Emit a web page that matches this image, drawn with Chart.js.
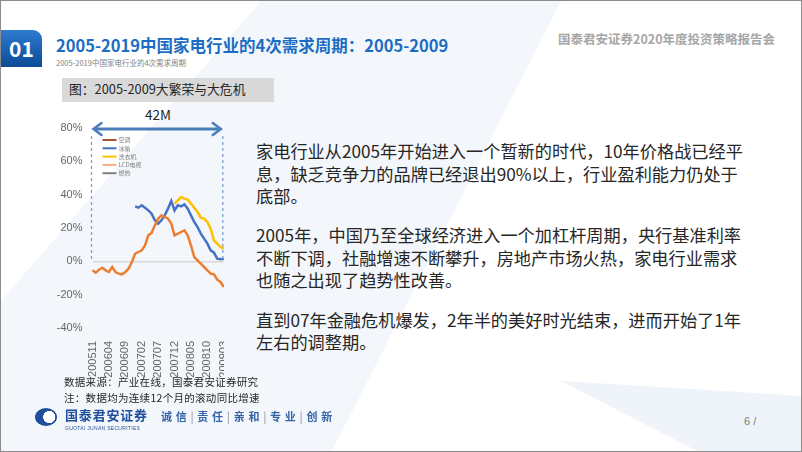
<!DOCTYPE html>
<html>
<head>
<meta charset="utf-8">
<script src="https://cdn.jsdelivr.net/npm/chart.js@4/dist/chart.umd.min.js"></script>
<style>
  html, body { margin: 0; padding: 0; }
  body {
    width: 802px; height: 452px; overflow: hidden; position: relative;
    background: #fff; font-family: "Noto Sans CJK SC", "Noto Sans", sans-serif;
    box-sizing: border-box; border: 1px solid #8c8c8c;
  }
  .abs { position: absolute; white-space: nowrap; }
  .bg1 { left: 0; top: 0; width: 802px; height: 452px; background: #f3f7fb;
         clip-path: polygon(260px 0, 560px 0, 330px 452px, 0 452px, 0 300px); }
  .bg2 { left: 0; top: 0; width: 802px; height: 452px; background: #eef4fa;
         clip-path: polygon(560px 380px, 802px 395px, 802px 452px, 700px 452px); }
  .num { left: 0; top: 29px; width: 41px; height: 37px; color: #fff; font-weight: bold;
         font-size: 21px; line-height: 37px; text-align: center;
         background: linear-gradient(180deg, #2f7ad0, #0c4a96); border-top-right-radius: 9px; }
  .title { left: 55px; top: 32px; color: #1c6cc3; font-weight: bold; font-size: 16.5px; }
  .sub { left: 55px; top: 56px; color: #7f7f7f; font-size: 7.5px; }
  .head { left: 557px; top: 28px; color: #a6a6a6; font-weight: bold; font-size: 12.5px; }
  .cap { left: 61px; top: 77px; width: 212px; height: 24px; background: #d9d9d9; }
  .cap span { position: absolute; left: 7px; top: 1px; font-size: 12.8px; color: #262626; }
  .m42 { left: 144px; top: 103px; font-size: 13.5px; color: #262626; }
  .txt { left: 255px; top: 139px; font-size: 17.2px; line-height: 22.6px; color: #262626; }
  .txt p { margin: 0 0 16.5px 0; }
  .src { left: 63px; font-size: 10.5px; line-height: 14px; color: #262626; letter-spacing: 0.3px; }
  .logo { left: 34px; top: 407px; width: 22px; height: 18px; border-radius: 50%;
          background: radial-gradient(circle at 65% 50%, #fff 0 35%, #1f4e9c 37%); }
  .brand { left: 64px; top: 407px; font-size: 13px; line-height: 13px; font-weight: bold; color: #1f4e9c; letter-spacing: 0.8px; }
  .brand-en { left: 64px; top: 424px; font-size: 5px; line-height: 6px; color: #1f4e9c; font-family: "Liberation Sans"; letter-spacing: 0.3px; }
  .motto { left: 160px; top: 407px; font-size: 11px; font-weight: bold; color: #3563a8; letter-spacing: 0.6px; }
  .page { left: 743px; top: 414px; font-size: 11px; color: #7f7f7f; font-family: "Liberation Sans"; }
  .chartbox { position: absolute; left: 45px; top: 100px; width: 178px; height: 285px; overflow: hidden; }
  .chartinner { position: absolute; left: 0; top: 0; width: 196px; height: 285px; }
</style>
</head>
<body>
<div class="abs bg1"></div>
<div class="abs bg2"></div>
<div class="abs num">01</div>
<div class="abs title">2005-2019中国家电行业的4次需求周期：2005-2009</div>
<div class="abs sub">2005-2019中国家电行业的4次需求周期</div>
<div class="abs head">国泰君安证券2020年度投资策略报告会</div>
<div class="abs cap"><span>图：2005-2009大繁荣与大危机</span></div>
<div class="abs m42">42M</div>
<div class="chartbox"><div class="chartinner"><canvas id="chartCanvas"></canvas></div></div>
<div class="abs txt">
  <p>家电行业从2005年开始进入一个暂新的时代，10年价格战已经平<br>息，缺乏竞争力的品牌已经退出90%以上，行业盈利能力仍处于<br>底部。</p>
  <p>2005年，中国乃至全球经济进入一个加杠杆周期，央行基准利率<br>不断下调，社融增速不断攀升，房地产市场火热，家电行业需求<br>也随之出现了趋势性改善。</p>
  <p>直到07年金融危机爆发，2年半的美好时光结束，进而开始了1年<br>左右的调整期。</p>
</div>
<div class="abs src" style="top: 374px;">数据来源：产业在线，国泰君安证券研究</div>
<div class="abs src" style="top: 390px;">注：数据均为连续12个月的滚动同比增速</div>
<div class="abs logo"></div>
<div class="abs brand">国泰君安证券</div>
<div class="abs brand-en">GUOTAI JUNAN SECURITIES</div>
<div class="abs motto">诚 信 <span style="color:#aab">|</span> 责 任 <span style="color:#aab">|</span> 亲 和 <span style="color:#aab">|</span> 专 业 <span style="color:#aab">|</span> 创 新</div>
<div class="abs page">6 /</div>

<script>
// --- Data (rolling 12M YoY growth, %) ---
const months = [
    '200511', '200512',
    '200601', '200602', '200603', '200604', '200605', '200606', '200607', '200608', '200609', '200610', '200611', '200612',
    '200701', '200702', '200703', '200704', '200705', '200706', '200707', '200708', '200709', '200710', '200711', '200712',
    '200801', '200802', '200803', '200804', '200805', '200806', '200807', '200808', '200809', '200810', '200811', '200812',
    '200901', '200902', '200903'
];
const airCon = [-5.4, -6.8, -5, -3.8, -5.4, -6.4, -3.4, -6.4, -7.4, -7.8, -6.4, -4.4, -0.4, 4.6, 5.6, 6.6, 9.6, 15.6, 17, 21.6,
    25.6, 27.6, 26.6, 25.6, 22.6, 15.6, 16.6, 17.6, 18.6, 15.6, 9.6, 2.6, 0.6, -1.4, -3.4, -5.4, -7.4, -7.8, -11, -12.4, -15.4];
const fridge = [null, null, null, null, null, null, null, null, null, null, null, null, null,
    33, 32.2, 33.6, 32.2, 30.6, 28.6, 24.6, 22.6, 24.6, 27.6, 31.6, 36.2, 30.6, 33.6, 33, 34.2,
    31.6, 27.6, 23.6, 20.6, 16.6, 13.6, 10.6, 6.6, 5.2, 1.6, 1.2, 1.6];
const washer = [null, null, null, null, null, null, null, null, null, null, null, null, null,
    null, null, null, null, null, null, null, null, null, null, null, null,
    34.6, 36.6, 38.6, 37.6, 37, 34.6, 32.2, 29.6, 26.2, 25.6, 23.6, 19.6, 12.6, 10.6, 8.6, 7.6];
const lcdTv = [];
const gasHeater = [];
const yTicks = [80, 60, 40, 20, 0, -20, -40];

const seriesNames = ['空调', '冰箱', '洗衣机', 'LCD电视', '燃热'];
const lineColors = ['#ED7D31', '#4472C4', '#FFC000', '#F4B183', '#595959'];
const legendColors = ['#A9552E', '#4472C4', '#FFC000', '#F4B183', '#7F7F7F'];

// --- Decorations: 42M period markers + inline legend ---
const periodMarks = {
    id: 'periodMarks',
    afterDraw(chart) {
        const { ctx, chartArea, scales } = chart;
        const x0 = scales.x.getPixelForValue(0) - 1;
        const x1 = scales.x.getPixelForValue(months.length - 1) - 1;
        const yZero = scales.y.getPixelForValue(0);
        ctx.save();

        // dashed verticals
        ctx.strokeStyle = '#7f9fd3';
        ctx.lineWidth = 1.3;
        ctx.setLineDash([3, 3]);
        [x0, x1].forEach(x => {
            ctx.beginPath();
            ctx.moveTo(x, chartArea.top + 8);
            ctx.lineTo(x, yZero);
            ctx.stroke();
        });
        ctx.setLineDash([]);

        // double arrow
        const ay = chartArea.top + 1;
        const head = 8;
        ctx.strokeStyle = '#4a7ebb';
        ctx.lineWidth = 3;
        ctx.beginPath();
        ctx.moveTo(x0 + 4, ay);
        ctx.lineTo(x1 - 4, ay);
        ctx.stroke();
        ctx.lineWidth = 2.6;
        ctx.lineCap = 'round';
        ctx.beginPath();
        ctx.moveTo(x0 + 2 + head, ay - 6); ctx.lineTo(x0 + 2, ay); ctx.lineTo(x0 + 2 + head, ay + 6);
        ctx.moveTo(x1 - 2 - head, ay - 6); ctx.lineTo(x1 - 2, ay); ctx.lineTo(x1 - 2 - head, ay + 6);
        ctx.stroke();

        // legend
        ctx.font = '6px "Noto Sans CJK SC"';
        ctx.textBaseline = 'middle';
        ctx.lineCap = 'butt';
        chart.data.datasets.forEach((ds, i) => {
            const ly = chartArea.top + 12 + i * 8.3;
            const lx = chartArea.left + 10;
            ctx.strokeStyle = legendColors[i];
            ctx.lineWidth = 2;
            ctx.beginPath();
            ctx.moveTo(lx, ly);
            ctx.lineTo(lx + 14, ly);
            ctx.stroke();
            ctx.fillStyle = '#7f7f7f';
            ctx.fillText(ds.label, lx + 16, ly);
        });
        ctx.restore();
    }
};

const seriesData = [airCon, fridge, washer, lcdTv, gasHeater];

new Chart(document.getElementById('chartCanvas'), {
    type: 'line',
    data: {
        labels: months,
        datasets: seriesNames.map((name, i) => ({
            label: name,
            data: seriesData[i],
            borderColor: lineColors[i],
            backgroundColor: lineColors[i],
            borderWidth: 2.5,
            pointRadius: 0,
            tension: 0,
            fill: false
        }))
    },
    options: {
        responsive: true,
        maintainAspectRatio: false,
        animation: false,
        layout: { padding: { top: 27, right: 1, left: 0, bottom: 0 } },
        plugins: {
            legend: { display: false },
            tooltip: { enabled: false }
        },
        scales: {
            x: {
                grid: { display: false },
                border: { display: false },
                afterFit: (scale) => { scale.height = 58; },
                ticks: {
                    autoSkip: false,
                    minRotation: 90,
                    maxRotation: 90,
                    padding: 5,
                    color: '#666',
                    font: { family: 'Liberation Sans', size: 11 },
                    callback: (value, index) => index % 5 === 0 ? months[index] : ''
                }
            },
            y: {
                min: -40,
                max: 80,
                afterFit: (scale) => { scale.width = 46.5; },
                afterBuildTicks: (scale) => { scale.ticks = yTicks.map(v => ({ value: v })); },
                grid: {
                    drawTicks: false,
                    color: (ctx) => ctx.tick && ctx.tick.value === 0 ? '#d9d9d9' : 'transparent',
                    lineWidth: 1.5
                },
                border: { display: false },
                ticks: {
                    padding: 10,
                    color: '#666',
                    font: { family: 'Liberation Sans', size: 11 },
                    callback: (value) => value + '%'
                }
            }
        }
    },
    plugins: [periodMarks]
});
</script>
</body>
</html>
